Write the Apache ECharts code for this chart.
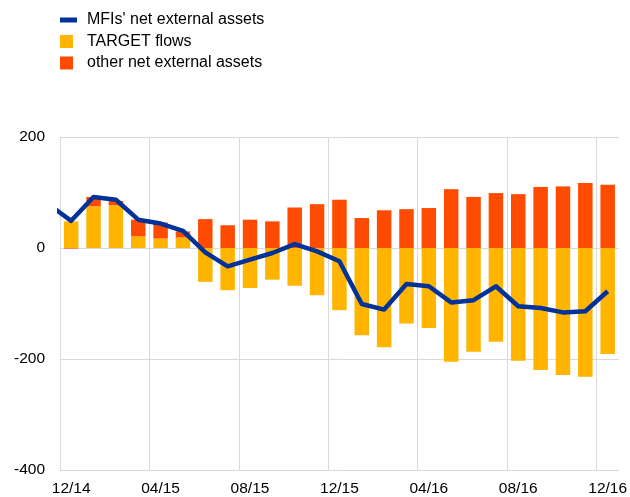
<!DOCTYPE html>
<html>
<head>
<meta charset="utf-8">
<script src="https://cdn.jsdelivr.net/npm/echarts@6/dist/echarts.min.js"></script>
<style>
  html, body { margin: 0; padding: 0; background: #fff; }
  #chart { width: 630px; height: 497px; }
</style>
</head>
<body>
<div id="chart"></div>
<script>
// monthly categories, 12/14 .. 12/16
var months = ["12/14", "01/15", "02/15", "03/15", "04/15", "05/15", "06/15", "07/15", "08/15",
  "09/15", "10/15", "11/15", "12/15", "01/16", "02/16", "03/16", "04/16", "05/16", "06/16",
  "07/16", "08/16", "09/16", "10/16", "11/16", "12/16"];

var targetFlows = [48, 75, 77, 21, 17, 19, -61, -76, -72, -57, -68, -85, -112, -157, -179,
  -136, -144, -205, -187, -169, -203, -220, -229, -232, -191];

var otherAssets = [-1, 17, 8, 30, 29, 11, 52, 41, 51, 48, 73, 79, 87, 54, 68, 70, 72, 106,
  92, 99, 97, 110, 111, 117, 114];

var mfisNet = [49, 92, 87, 51, 44, 31, -8, -33, -21, -9, 7, -6, -24, -101, -111, -65, -69,
  -98, -94, -69, -105, -108, -116, -114, -78];
// value for 11/14, only its segment into the plot is visible
var mfisNetPrior = 78;

var yTicks = [-400, -200, 0, 200];

var font = "'Liberation Sans', Arial, sans-serif";

// line points on month index, so the line can start left of the first bar
var linePoints = [[-1, mfisNetPrior]];
mfisNet.forEach(function (v, i) {
  linePoints.push([i, v]);
});

var chart = echarts.init(document.getElementById("chart"));
var option = {
  animation: false,
  textStyle: { fontFamily: font },
  grid: { left: 60, right: 7.5, top: 137, bottom: 26, containLabel: false },
  legend: [
    {
      left: 60,
      top: 12,
      padding: 0,
      orient: "vertical",
      itemWidth: 17,
      itemHeight: 13,
      selectedMode: false,
      textStyle: { fontSize: 16, color: "#000", lineHeight: 16, padding: [0, 0, 0, 5] },
      data: [{ name: "MFIs' net external assets", icon: "path://M0,0H17V5H0Z" }],
    },
    {
      left: 60,
      top: 33.5,
      padding: 0,
      orient: "vertical",
      itemWidth: 13,
      itemHeight: 13,
      itemGap: 5.5,
      icon: "rect",
      selectedMode: false,
      textStyle: { fontSize: 16, color: "#000", lineHeight: 16, padding: [0, 0, 0, 9] },
      data: ["TARGET flows", "other net external assets"],
    },
  ],
  xAxis: [
    {
      type: "category",
      data: months,
      boundaryGap: true,
      axisLine: { show: false },
      axisTick: { show: false },
      axisLabel: { interval: 3, margin: 11, fontSize: 15.5, color: "#000", fontFamily: font },
      splitLine: {
        show: true,
        interval: 3,
        showMaxLine: false,
        lineStyle: { color: "#d9d9d9", width: 1 },
      },
    },
    {
      type: "value",
      min: -0.5,
      max: months.length - 0.5,
      show: false,
      splitLine: { show: false },
    },
  ],
  yAxis: {
    type: "value",
    min: yTicks[0],
    max: yTicks[yTicks.length - 1],
    interval: 200,
    axisLine: { show: false },
    axisTick: { show: false },
    axisLabel: { margin: 15, fontSize: 15.5, color: "#000", fontFamily: font },
    splitLine: { show: true, lineStyle: { color: "#d9d9d9", width: 1 } },
  },
  series: [
    {
      name: "TARGET flows",
      type: "bar",
      stack: "assets",
      barWidth: 14.5,
      color: "#FFB400",
      data: targetFlows,
    },
    {
      name: "other net external assets",
      type: "bar",
      stack: "assets",
      barWidth: 14.5,
      color: "#FF4B00",
      data: otherAssets,
    },
    {
      name: "MFIs' net external assets",
      type: "line",
      xAxisIndex: 1,
      symbol: "none",
      clip: true,
      color: "#003299",
      lineStyle: { width: 4.5, color: "#003299", join: "round" },
      z: 5,
      data: linePoints,
    },
  ],
};
chart.setOption(option);
</script>
</body>
</html>
